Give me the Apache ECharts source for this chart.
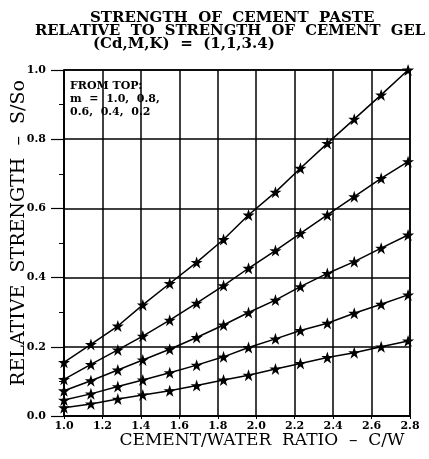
<!DOCTYPE html>
<html>
<head>
<meta charset="utf-8">
<script src="https://cdn.jsdelivr.net/npm/echarts@6/dist/echarts.min.js"></script>
<style>html,body{margin:0;padding:0;background:#fff}#c{width:429px;height:459px}</style>
</head>
<body>
<div id="c"></div>
<script>
var cwRatio = [1.0, 1.14, 1.28, 1.41, 1.55, 1.69, 1.83, 1.96, 2.10, 2.23, 2.37, 2.51, 2.65, 2.79];
var m10 = [0.155, 0.207, 0.260, 0.321, 0.383, 0.444, 0.510, 0.581, 0.647, 0.716, 0.788, 0.858, 0.928, 1.000];
var m08 = [0.106, 0.149, 0.191, 0.231, 0.277, 0.326, 0.377, 0.427, 0.478, 0.528, 0.581, 0.634, 0.687, 0.735];
var m06 = [0.073, 0.102, 0.133, 0.162, 0.193, 0.227, 0.263, 0.299, 0.335, 0.374, 0.412, 0.446, 0.485, 0.523];
var m04 = [0.046, 0.064, 0.085, 0.104, 0.125, 0.147, 0.171, 0.198, 0.223, 0.247, 0.268, 0.297, 0.323, 0.350];
var m02 = [0.024, 0.035, 0.049, 0.061, 0.073, 0.088, 0.104, 0.118, 0.136, 0.152, 0.169, 0.183, 0.200, 0.217];
var xTicks = ['1.0','1.2','1.4','1.6','1.8','2.0','2.2','2.4','2.6','2.8'];
var yTicks = ['0.0','0.2','0.4','0.6','0.8','1.0'];
var titleLines = ['STRENGTH  OF  CEMENT  PASTE', 'RELATIVE  TO  STRENGTH  OF  CEMENT  GEL', '(Cd,M,K)  =  (1,1,3.4)'];
var legendLines = ['FROM TOP:', 'm  =  1.0,  0.8,', '0.6,  0.4,  0.2'];
var xName = 'CEMENT/WATER  RATIO  \u2013  C/W';
var yName = 'RELATIVE  STRENGTH  \u2013  S/So';

var star = 'path://M50,0 L61.8,35.4 L98,35.4 L68.7,57.3 L79.8,92.7 L50,70.8 L20.2,92.7 L31.3,57.3 L2,35.4 L38.2,35.4 Z';
var serif = 'DejaVu Serif';

function mk(vals){
  return {
    type: 'line',
    data: cwRatio.map(function(x,i){ return [x, vals[i]]; }),
    symbol: star, symbolSize: 12,
    itemStyle: {color: '#000'},
    lineStyle: {color: '#000', width: 1.5},
    z: 5
  };
}

var chart = echarts.init(document.getElementById('c'), null, {renderer: 'canvas'});
chart.setOption({
  animation: false,
  backgroundColor: '#fff',
  grid: {left: 64, right: 19, top: 70, bottom: 43, show: true, borderColor: '#000', borderWidth: 1.5},
  xAxis: {
    type: 'value', min: 1.0, max: 2.8, interval: 0.2,
    axisLine: {lineStyle: {color: '#000', width: 1.5}},
    axisTick: {show: true, length: 3, lineStyle: {color: '#000'}},
    axisLabel: {color: '#000', fontFamily: serif, fontWeight: 'bold', fontSize: 11, margin: 5,
      formatter: function(v){ var i = Math.round((v - 1.0) / 0.2); return xTicks[i] || ''; }},
    splitLine: {show: true, lineStyle: {color: '#000', width: 1.5}}
  },
  yAxis: {
    type: 'value', min: 0, max: 1.0, interval: 0.2,
    axisLine: {lineStyle: {color: '#000', width: 1.5}},
    axisTick: {show: true, length: 13, lineStyle: {color: '#000', width: 1.2}},
    minorTick: {show: true, splitNumber: 2, length: 5, lineStyle: {color: '#000'}},
    axisLabel: {color: '#000', fontFamily: serif, fontWeight: 'bold', fontSize: 11, margin: 18,
      formatter: function(v){ var i = Math.round(v / 0.2); return yTicks[i] || ''; }},
    splitLine: {show: true, lineStyle: {color: '#000', width: 1.5}}
  },
  graphic: [
    {type: 'text', left: 90, top: 11, style: {text: titleLines[0], font: 'bold 15px "DejaVu Serif"', fill: '#000'}},
    {type: 'text', left: 35, top: 24, style: {text: titleLines[1], font: 'bold 14.8px "DejaVu Serif"', fill: '#000'}},
    {type: 'text', left: 93, top: 37, style: {text: titleLines[2], font: 'bold 15px "DejaVu Serif"', fill: '#000'}},
    {type: 'text', x: 262, y: 441, style: {text: xName, font: '17px "DejaVu Serif"', fill: '#000', align: 'center', verticalAlign: 'middle'}},
    {type: 'text', x: 19, y: 233, rotation: Math.PI / 2, style: {text: yName, font: '19px "DejaVu Serif"', fill: '#000', align: 'center', verticalAlign: 'middle'}},
    {type: 'text', left: 70, top: 80, style: {text: legendLines.join('\n'), font: 'bold 11px "DejaVu Serif"', lineHeight: 13, fill: '#000'}}
  ],
  series: [mk(m10), mk(m08), mk(m06), mk(m04), mk(m02)]
});
</script>
</body>
</html>
